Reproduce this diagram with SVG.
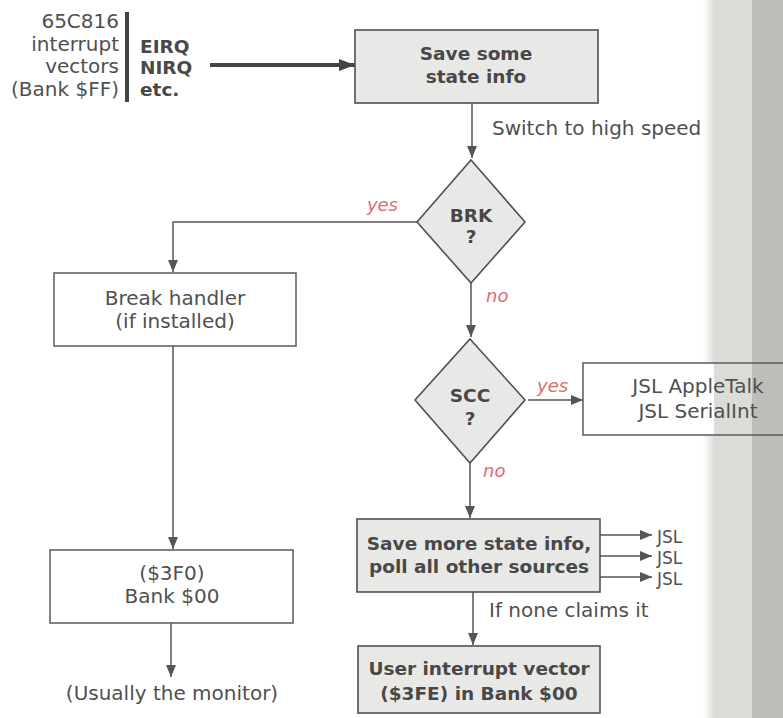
<svg xmlns="http://www.w3.org/2000/svg" width="783" height="718" viewBox="0 0 783 718">
<style>
.t{font-family:"DejaVu Sans",sans-serif;font-size:20px;fill:#505050}
.b{font-family:"DejaVu Sans",sans-serif;font-weight:bold;font-size:18.5px;fill:#484848}
.r{font-family:"DejaVu Sans",sans-serif;font-style:italic;font-size:18px;fill:#e06a6a}
.j{font-family:"DejaVu Sans",sans-serif;font-size:17px;fill:#505050}
.box{fill:#ffffff;stroke:#5a5a5a;stroke-width:1.5}
.sh{fill:#e8e8e6;stroke:#505050;stroke-width:1.6}
.ln{fill:none;stroke:#555;stroke-width:1.5}
</style>
<defs>
<marker id="ah" markerUnits="userSpaceOnUse" markerWidth="12" markerHeight="12" refX="12" refY="6" orient="auto"><path d="M0,1 L12,6 L0,11 z" fill="#555"/></marker>
<marker id="ahb" markerUnits="userSpaceOnUse" markerWidth="16" markerHeight="14" refX="16" refY="7" orient="auto"><path d="M0,1 L16,7 L0,13 z" fill="#444"/></marker>
<linearGradient id="fade" x1="0" x2="1" y1="0" y2="0"><stop offset="0" stop-color="#ffffff"/><stop offset="1" stop-color="#dcdbd7"/></linearGradient>
</defs>
<rect x="0" y="0" width="783" height="718" fill="#ffffff"/>
<g id="binding">
<rect x="703" y="0" width="12" height="718" fill="url(#fade)"/>
<rect x="714" y="0" width="39" height="718" fill="#dcdbd7"/>
<rect x="752" y="0" width="31" height="718" fill="#bebdb9"/>
</g>
<g id="vectors">
<text class="t" x="119" y="28" text-anchor="end">65C816</text>
<text class="t" x="119" y="51" text-anchor="end">interrupt</text>
<text class="t" x="119" y="73" text-anchor="end">vectors</text>
<text class="t" x="119" y="96" text-anchor="end">(Bank $FF)</text>
<rect x="125" y="12" width="4" height="90" fill="#444"/>
<text class="b" x="140" y="53">EIRQ</text>
<text class="b" x="140" y="74">NIRQ</text>
<text class="b" x="140" y="96">etc.</text>
</g>
<g id="connectors">
<line x1="210" y1="65" x2="355" y2="65" stroke="#444" stroke-width="4" marker-end="url(#ahb)"/>
<line class="ln" x1="472" y1="103" x2="472" y2="158" marker-end="url(#ah)"/>
<polyline class="ln" points="417,222 173,222 173,272" marker-end="url(#ah)"/>
<line class="ln" x1="471" y1="283" x2="471" y2="337" marker-end="url(#ah)"/>
<line class="ln" x1="173" y1="346" x2="173" y2="549" marker-end="url(#ah)"/>
<line class="ln" x1="171" y1="623" x2="171" y2="677" marker-end="url(#ah)"/>
<line class="ln" x1="528" y1="400" x2="583" y2="400" marker-end="url(#ah)"/>
<line class="ln" x1="470" y1="463" x2="470" y2="518" marker-end="url(#ah)"/>
<line class="ln" x1="600" y1="535" x2="652" y2="535" marker-end="url(#ah)"/>
<line class="ln" x1="600" y1="556" x2="652" y2="556" marker-end="url(#ah)"/>
<line class="ln" x1="600" y1="577" x2="652" y2="577" marker-end="url(#ah)"/>
<line class="ln" x1="473" y1="592" x2="473" y2="645" marker-end="url(#ah)"/>
<text class="t" x="492" y="135">Switch to high speed</text>
<text class="r" x="398" y="211" text-anchor="end">yes</text>
<text class="r" x="486" y="302">no</text>
<text class="r" x="537" y="392">yes</text>
<text class="r" x="483" y="477">no</text>
<text class="t" x="489" y="617">If none claims it</text>
<text class="j" x="657" y="543">JSL</text>
<text class="j" x="657" y="564">JSL</text>
<text class="j" x="657" y="585">JSL</text>
</g>
<g id="save">
<rect class="sh" x="355" y="30" width="243" height="73"/>
<text class="b" x="476" y="60" text-anchor="middle">Save some</text>
<text class="b" x="476" y="83" text-anchor="middle">state info</text>
</g>
<g id="brk">
<polygon class="sh" points="471,160 525,222 471,283 417,222"/>
<text class="b" x="471" y="222" text-anchor="middle">BRK</text>
<text class="b" x="471" y="243" text-anchor="middle">?</text>
</g>
<g id="break">
<rect class="box" x="54" y="273" width="242" height="73"/>
<text class="t" x="175" y="305" text-anchor="middle">Break handler</text>
<text class="t" x="175" y="328" text-anchor="middle">(if installed)</text>
</g>
<g id="scc">
<polygon class="sh" points="470,339 525,400 470,463 415,400"/>
<text class="b" x="470" y="402" text-anchor="middle">SCC</text>
<text class="b" x="470" y="425" text-anchor="middle">?</text>
</g>
<g id="jsl">
<rect x="583" y="363" width="131" height="72" fill="#ffffff"/>
<rect x="583" y="363" width="210" height="72" fill="none" stroke="#5a5a5a" stroke-width="1.5"/>
<text class="t" x="698" y="393" text-anchor="middle">JSL AppleTalk</text>
<text class="t" x="698" y="418" text-anchor="middle">JSL SerialInt</text>
</g>
<g id="more">
<rect class="sh" x="357" y="519" width="243" height="73"/>
<text class="b" x="479" y="550" text-anchor="middle">Save more state info,</text>
<text class="b" x="479" y="573" text-anchor="middle">poll all other sources</text>
</g>
<g id="f0">
<rect class="box" x="50" y="550" width="243" height="73"/>
<text class="t" x="172" y="580" text-anchor="middle">($3F0)</text>
<text class="t" x="172" y="603" text-anchor="middle">Bank $00</text>
</g>
<text class="t" x="172" y="700" text-anchor="middle">(Usually the monitor)</text>
<g id="user">
<rect class="sh" x="358" y="646" width="242" height="67"/>
<text class="b" x="479" y="675" text-anchor="middle">User interrupt vector</text>
<text class="b" x="479" y="700" text-anchor="middle">($3FE) in Bank $00</text>
</g>
</svg>
